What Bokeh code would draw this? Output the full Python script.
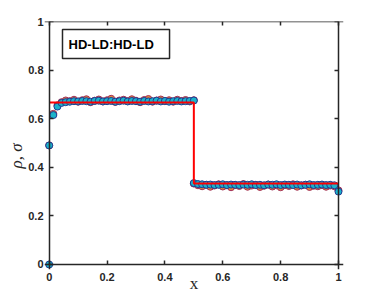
from bokeh.plotting import figure
from bokeh.models import LinearAxis, Range1d, FixedTicker, Title
from bokeh.core.properties import value
from bokeh.embed import file_html
from bokeh.resources import INLINE

# ---- data ----
x_ticks = [0, 0.2, 0.4, 0.6, 0.8, 1]
y_ticks = [0, 0.2, 0.4, 0.6, 0.8, 1]

seg1_x = [i / 70 for i in range(36)]
seg2_x = [0.5 + i / 70 for i in range(36)]

cyan1 = [0.49, 0.615, 0.65, 0.665, 0.668, 0.670, 0.672, 0.671, 0.673, 0.672, 0.670, 0.673,
         0.674, 0.671, 0.672, 0.673, 0.670, 0.672, 0.674, 0.671, 0.673, 0.672, 0.670, 0.673,
         0.671, 0.672, 0.674, 0.671, 0.673, 0.670, 0.672, 0.673, 0.671, 0.672, 0.673, 0.675]
orange1 = [0.49, 0.62, 0.655, 0.668, 0.675, 0.672, 0.678, 0.670, 0.676, 0.680, 0.668, 0.674,
           0.679, 0.671, 0.676, 0.682, 0.669, 0.675, 0.678, 0.672, 0.680, 0.674, 0.668, 0.677,
           0.681, 0.670, 0.675, 0.679, 0.672, 0.676, 0.670, 0.678, 0.673, 0.677, 0.671, 0.676]
cyan2 = [0.335, 0.331, 0.330, 0.328, 0.329, 0.327, 0.328, 0.330, 0.327, 0.329, 0.328, 0.327,
         0.329, 0.328, 0.330, 0.327, 0.328, 0.326, 0.329, 0.328, 0.330, 0.327, 0.329, 0.328,
         0.327, 0.329, 0.326, 0.328, 0.330, 0.327, 0.328, 0.329, 0.327, 0.328, 0.326, 0.300]
orange2 = [0.333, 0.326, 0.322, 0.328, 0.320, 0.325, 0.330, 0.321, 0.326, 0.318, 0.327, 0.323,
           0.331, 0.320, 0.325, 0.328, 0.319, 0.324, 0.329, 0.321, 0.326, 0.318, 0.327, 0.323,
           0.330, 0.320, 0.325, 0.328, 0.319, 0.324, 0.322, 0.327, 0.320, 0.325, 0.322, 0.305]
extra_x = [0.0]
extra_y = [0.0]

theory_x = [0, 0.5, 0.5, 1]
theory_y = [0.667, 0.667, 0.333, 0.333]

legend_text = ["HD-LD:HD-LD"]
x_label = "x"
y_label = "ρ, σ"

# legend box extent (data units of the axes)
box_left, box_right, box_bottom, box_top = [0.046], [0.416], [0.848], [0.967]
text_x, text_y = [0.067], [0.907]

# ---- figure ----
W, H = 365, 297
p = figure(width=W, height=H, output_backend="svg", toolbar_location=None, title=None,
           x_range=Range1d(-0.0162, 1.0173), y_range=Range1d(-0.0206, 1.0),
           min_border_left=44, min_border_right=22, min_border_top=21, min_border_bottom=28)
p.grid.visible = False
p.outline_line_color = None
p.background_fill_color = "white"
p.border_fill_color = "white"

axis_col = "#262626"

# label-only axes (below / left)
xa = p.xaxis[0]
ya = p.yaxis[0]
for ax, ticks in ((xa, x_ticks), (ya, y_ticks)):
    ax.ticker = FixedTicker(ticks=ticks)
    ax.major_label_overrides = {0: "0", 1: "1"}
    ax.axis_line_color = None
    ax.major_tick_line_color = None
    ax.minor_tick_line_color = None
    ax.major_tick_in = 0
    ax.major_tick_out = 0
    ax.major_label_text_font = "Liberation Sans"
    ax.major_label_text_font_style = "bold"
    ax.major_label_text_font_size = "11px"
    ax.major_label_text_color = "#262626"
xa.major_label_standoff = 3
ya.major_label_standoff = 1
xa.axis_label = x_label
xa.axis_label_text_font = "Liberation Serif"
xa.axis_label_text_font_style = "normal"
xa.axis_label_text_font_size = "17px"
xa.axis_label_text_color = "#262626"
xa.axis_label_standoff = -10

# y label as a title on the left, shifted down like the reference
p.add_layout(Title(text=y_label, align="left", offset=101, standoff=0,
                   text_font="Liberation Serif", text_font_style="italic",
                   text_font_size="17px", text_color="#262626"), "left")

# box axes: lines + inward ticks at the data edges
def box_axis(ticks, loc, tick_in, tick_out):
    ax = LinearAxis(ticker=FixedTicker(ticks=ticks), fixed_location=loc)
    ax.axis_line_color = axis_col
    ax.axis_line_width = 1.5
    ax.major_tick_line_color = axis_col
    ax.major_tick_line_width = 1.5
    ax.major_tick_in = tick_in
    ax.major_tick_out = tick_out
    ax.minor_tick_line_color = None
    ax.major_label_text_font_size = "0px"
    ax.major_label_text_color = None
    ax.major_label_standoff = 0
    return ax

p.add_layout(box_axis(x_ticks, 0, 0, 4), "above")   # bottom edge, ticks up
p.add_layout(box_axis(x_ticks, 1, 4, 0), "above")   # top edge, ticks down
p.add_layout(box_axis(y_ticks, 0, 0, 4), "right")   # left edge, ticks right
p.add_layout(box_axis(y_ticks, 1, 4, 0), "right")   # right edge, ticks left

# ---- markers ----
p.scatter(seg1_x, orange1, size=7, fill_color="#E0883A", line_color="#A2305A", line_width=1)
p.scatter(seg2_x, orange2, size=7, fill_color="#E0883A", line_color="#A2305A", line_width=1)
p.scatter(seg1_x, cyan1, size=7, fill_color="#1BB3CA", line_color="#1F3A93", line_width=1)
p.scatter(seg2_x, cyan2, size=7, fill_color="#1BB3CA", line_color="#1F3A93", line_width=1)
p.scatter(extra_x, extra_y, size=7, fill_color="#1BB3CA", line_color="#1F3A93", line_width=1)

p.line(theory_x, theory_y, line_color="#FF0000", line_width=2)

# ---- legend-like text box ----
p.quad(left=box_left, right=box_right, bottom=box_bottom, top=box_top,
       fill_color="white", line_color="#262626", line_width=1.5)
p.text(x=text_x, y=text_y, text=legend_text, text_baseline="middle", text_align="left",
       text_font=value("Liberation Sans"), text_font_style="bold",
       text_font_size="13px", text_color="black")

open("out.html", "w").write(file_html(p, INLINE))
